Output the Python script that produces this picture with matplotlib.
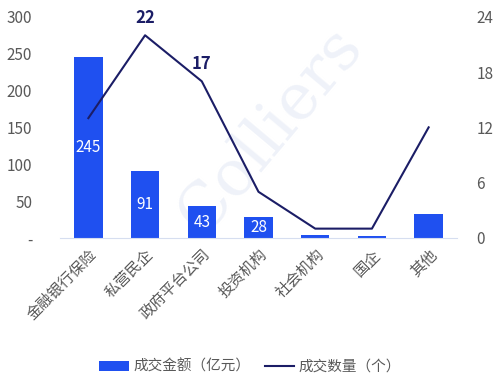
import numpy as np
import matplotlib
matplotlib.use("Agg")
import matplotlib.pyplot as plt
from matplotlib.lines import Line2D
from matplotlib.patches import Patch

plt.rcParams['font.family'] = ['Noto Sans CJK SC', 'DejaVu Sans']

categories = ["金融银行保险", "私营民企", "政府平台公司", "投资机构", "社会机构", "国企", "其他"]
amount = [245, 91, 43, 28, 4, 3, 33]       # 成交金额（亿元）
count = [13, 22, 17, 5, 1, 1, 12]          # 成交数量（个）
amount_labels = [0, 1, 2, 3]               # bars with value label
count_labels = [1, 2]                      # line points with value label

left_ticks = [0, 50, 100, 150, 200, 250, 300]
left_ticklabels = ["-", "50", "100", "150", "200", "250", "300"]
right_ticks = [0, 6, 12, 18, 24]

barColor = "#1F50F0"
lineColor = "#1B1D66"
tickColor = "#595959"

fig = plt.figure(figsize=(5, 3.83), dpi=100)
ax = fig.add_axes([0.12, 0.379, 0.794, 0.577])
ax2 = ax.twinx()

x = np.arange(len(categories))

# faint watermark behind the bars
ax.text(0.54, 0.66, "Colliers", rotation=50, fontsize=46, color="#EFF2F9",
        ha="center", va="center", family="DejaVu Serif", zorder=1,
        transform=fig.transFigure)

ax.bar(x, amount, width=0.5, color=barColor, zorder=2)
for i in amount_labels:
    ax.text(x[i], amount[i] / 2, str(amount[i]), color="white", fontsize=11,
            ha="center", va="center", zorder=3)

ax2.plot(x, count, color=lineColor, linewidth=1.5, zorder=3)
for i in count_labels:
    ax2.annotate(str(count[i]), (x[i], count[i]), xytext=(0, 6), textcoords="offset points",
                 ha="center", va="bottom", fontsize=12, fontweight="bold", color=lineColor)

ax.set_xlim(-0.5, len(categories) - 0.5)
ax.set_ylim(0, 300)
ax2.set_ylim(0, 24)

ax.set_yticks(left_ticks)
ax.set_yticklabels(left_ticklabels)
ax2.set_yticks(right_ticks)
ax.set_xticks(x)
ax.set_xticklabels(categories, rotation=45, ha="right", rotation_mode="anchor")

for a in (ax, ax2):
    for s in a.spines.values():
        s.set_visible(False)
    a.tick_params(length=0, labelsize=11, colors=tickColor)
ax.spines["bottom"].set_visible(True)
ax.spines["bottom"].set_color("#D6DEF0")
ax.tick_params(axis="y", pad=20)
ax.tick_params(axis="x", pad=6)
ax2.tick_params(axis="y", pad=14)

handles = [Patch(facecolor=barColor, label="成交金额（亿元）"),
           Line2D([0], [0], color=lineColor, linewidth=1.5, label="成交数量（个）")]
fig.legend(handles=handles, loc="center", bbox_to_anchor=(0.5, 0.042), ncol=2,
           frameon=False, fontsize=10.5, labelcolor=tickColor, handlelength=2.0,
           handletextpad=0.3, columnspacing=1.0)

fig.savefig("out.png", dpi=100)
